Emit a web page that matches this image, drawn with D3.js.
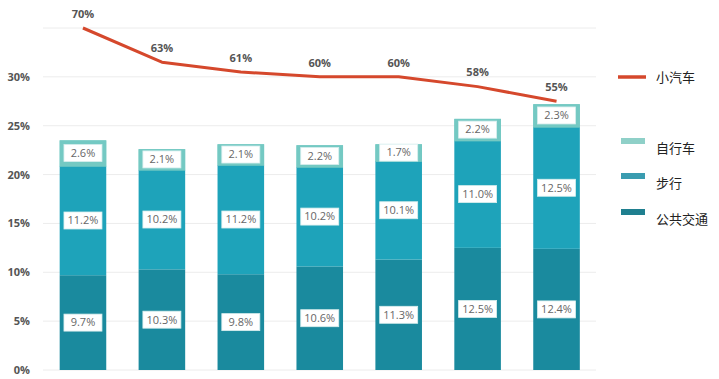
<!DOCTYPE html>
<html><head><meta charset="utf-8">
<script src="https://cdn.jsdelivr.net/npm/d3@7"></script>
<style>
html,body{margin:0;padding:0;background:#fff;}
svg{display:block;font-family:"Open Sans","Noto Sans CJK SC",sans-serif;}
</style></head>
<body><svg id="c" width="719" height="379"></svg>
<script>
const categories = ["1","2","3","4","5","6","7"];
const transit = [9.7, 10.3, 9.8, 10.6, 11.3, 12.5, 12.4];
const walk = [11.2, 10.2, 11.2, 10.2, 10.1, 11.0, 12.5];
const bike = [2.6, 2.1, 2.1, 2.2, 1.7, 2.2, 2.3];
const car = [70, 63, 61, 60, 60, 58, 55];
const yTicks = [0, 5, 10, 15, 20, 25, 30];
const seriesNames = ["公共交通", "步行", "自行车"];
const lineName = "小汽车";

const colors = {"公共交通": "#1a8a9e", "步行": "#1ea3ba", "自行车": "#74c9c3"};
const legendColors = {"公共交通": "#1f7f8f", "步行": "#3a9cb0", "自行车": "#8fd0c8"};
const lineColor = "#d5482c";

const svg = d3.select("#c");
const x = d3.scaleBand().domain(categories).range([43.5, 596]).paddingInner(0.41).paddingOuter(0.205);
const y = d3.scaleLinear().domain([0, 35]).range([370, 28]);
const y2 = d3.scaleLinear().domain([0, 70]).range([370, 28]);

// gridlines
svg.append("g").selectAll("line").data(yTicks.concat([35])).join("line")
  .attr("x1", 43).attr("x2", 596)
  .attr("y1", d => y(d)).attr("y2", d => y(d))
  .attr("stroke", "#ececec").attr("stroke-width", 1);

// y-axis labels
const yAxis = d3.axisLeft(y).tickValues(yTicks).tickFormat(d => d + "%").tickSize(0).tickPadding(0);
const ga = svg.append("g").attr("transform", "translate(30,0)").call(yAxis);
ga.select(".domain").remove();
ga.selectAll("text").attr("fill", "#555").attr("font-size", 11).attr("font-weight", "bold").attr("font-family", "Open Sans, sans-serif");

// stacked bars
const rows = categories.map((c, i) => ({cat: c, "公共交通": transit[i], "步行": walk[i], "自行车": bike[i]}));
const stack = d3.stack().keys(seriesNames)(rows);
const gb = svg.append("g");
stack.forEach(layer => {
  const key = layer.key;
  gb.append("g").selectAll("rect").data(layer).join("rect")
    .attr("x", d => x(d.data.cat))
    .attr("width", x.bandwidth())
    .attr("y", d => y(d[1]))
    .attr("height", d => y(d[0]) - y(d[1]))
    .attr("fill", colors[key]);
});
// light outline on top segment
const topLayer = stack[2];
gb.append("g").selectAll("rect").data(topLayer).join("rect")
  .attr("x", d => x(d.data.cat) + 1)
  .attr("width", x.bandwidth() - 2)
  .attr("y", d => y(d[1]) + 1)
  .attr("height", d => y(d[0]) - y(d[1]) - 1)
  .attr("fill", "none").attr("stroke", "#74c9c3").attr("stroke-width", 2);

// labels
const gl = svg.append("g");
stack.forEach(layer => {
  layer.forEach(d => {
    const v = d.data[layer.key];
    const cx = x(d.data.cat) + x.bandwidth() / 2;
    const cy = y((d[0] + d[1]) / 2);
    const t = v.toFixed(1) + "%";
    const w = 38, h = 17;
    gl.append("rect").attr("x", cx - w / 2).attr("y", cy - h / 2).attr("width", w).attr("height", h)
      .attr("fill", "#fff").attr("stroke", "#d8eeee").attr("stroke-width", 0.8);
    gl.append("text").attr("x", cx).attr("y", cy).attr("dy", "0.35em").attr("text-anchor", "middle")
      .attr("font-size", 11).attr("fill", "#666").text(t);
  });
});

// car line
const line = d3.line().x((d, i) => x(categories[i]) + x.bandwidth() / 2).y(d => y2(d));
svg.append("path").datum(car).attr("d", line).attr("fill", "none")
  .attr("stroke", lineColor).attr("stroke-width", 3).attr("stroke-linejoin", "round");
svg.append("g").selectAll("text").data(car).join("text")
  .attr("x", (d, i) => x(categories[i]) + x.bandwidth() / 2)
  .attr("y", d => y2(d) - 14)
  .attr("dy", "0.35em")
  .attr("text-anchor", "middle").attr("font-size", 11).attr("font-weight", "bold").attr("fill", "#555")
  .text(d => d + "%");

// legend
const lg = svg.append("g");
lg.append("line").attr("x1", 618).attr("x2", 646).attr("y1", 77).attr("y2", 77)
  .attr("stroke", lineColor).attr("stroke-width", 3.5);
lg.append("text").attr("x", 656).attr("y", 77).attr("dy", "0.35em").attr("font-size", 13).attr("fill", "#222")
  .attr("font-family", "Noto Sans CJK SC").text(lineName);
const legendItems = [["自行车", 141, 148], ["步行", 176, 183], ["公共交通", 212, 219]];
legendItems.forEach(([name, sy, ty]) => {
  lg.append("rect").attr("x", 621).attr("y", sy - 3).attr("width", 24).attr("height", 6).attr("fill", legendColors[name]);
  lg.append("text").attr("x", 656).attr("y", ty).attr("dy", "0.35em").attr("font-size", 13).attr("fill", "#222")
    .attr("font-family", "Noto Sans CJK SC").text(name);
});
</script></body></html>
